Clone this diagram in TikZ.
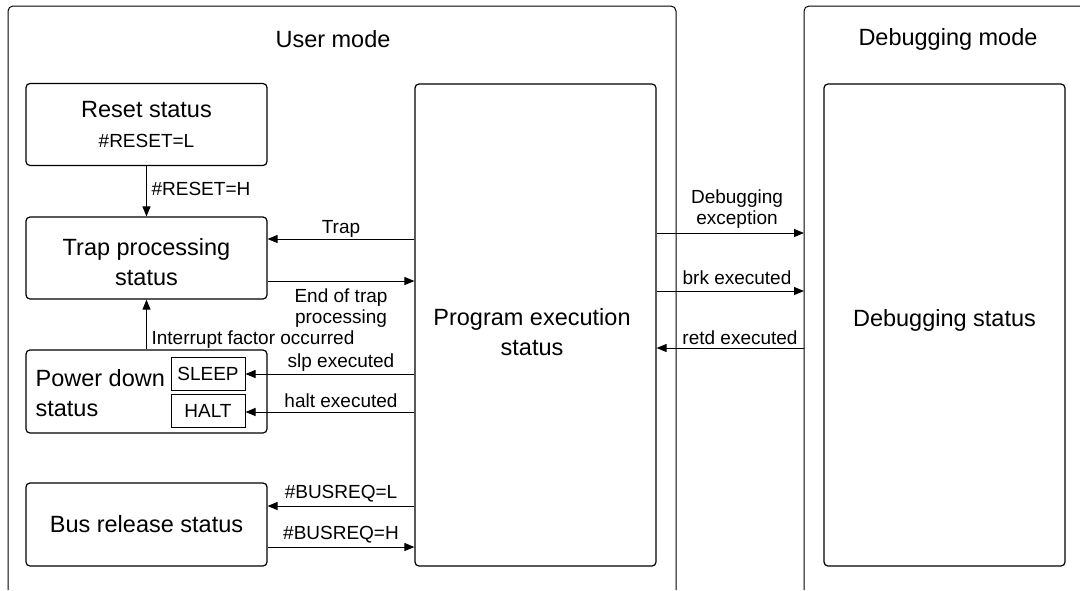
\documentclass[tikz,border=0pt]{standalone}
\usepackage{fontspec}
\setmainfont{Liberation Sans}
\usetikzlibrary{arrows.meta}
\begin{document}
\begin{tikzpicture}[x=1pt,y=-1pt,
  line width=1.2pt,
  bigf/.style={font=\fontsize{23.5}{30}\selectfont},
  smallf/.style={font=\fontsize{19}{20.5}\selectfont},
  box/.style={draw, rounded corners=4pt, inner sep=0pt, minimum width=241pt, bigf, align=center},
  sbox/.style={draw, line width=1pt, inner sep=0pt, minimum width=74pt, minimum height=33pt, smallf},
  lbl/.style={smallf, inner sep=0pt, align=center},
  txt/.style={bigf, inner sep=0pt, align=center},
  arr/.style={line width=1pt, -{Triangle[length=10pt,width=8pt]}},
]
\useasboundingbox (0,0) rectangle (1080,590);
% frames
\draw[line width=1pt, rounded corners=5pt] (8,590) -- (8,6) -- (676,6) -- (676,590);
\draw[line width=1pt, rounded corners=5pt] (804,590) -- (804,6) -- (1080,6);
\coordinate (dbgL) at (804,325);
\node[txt] (umode) at (333,39) {User mode};
\node[txt] (dmode) at (948,39) {Debugging mode};
% boxes
\node[box, minimum height=82pt] (reset) at (146.5,124.5) {Reset status\\{\fontsize{19}{20.5}\selectfont\#RESET=L}};
\node[box, minimum height=82pt] (trap) at (146.5,258) {};
\node[txt] (traptxt) at (146.5,262) {Trap processing\\status};
\node[box, minimum height=83pt] (power) at (146.5,391.5) {};
\node[txt, anchor=west, align=left] (powertxt) at (35,393) {Power down\\status};
\node[sbox] (sleep) at (208,373.5) {SLEEP};
\node[sbox] (halt) at (208,410.5) {HALT};
\node[box, minimum height=83pt] (bus) at (146.5,524.5) {Bus release status};
\node[box, minimum height=482pt] (prog) at (535.5,325) {};
\node[txt] (progtxt) at (532,332) {Program execution\\status};
\node[box, minimum height=482pt] (dbg) at (944.5,325) {};
\node[txt] (dbgtxt) at (944.5,320) {Debugging status};
% connectors
\draw[arr] (reset.south) -- (trap.north);
\node[lbl, anchor=west] at (151,189) {\#RESET=H};
\draw[arr] (power.north) -- (trap.south);
\node[lbl, anchor=west] at (151,340) {Interrupt factor occurred};
\draw[arr] (prog.west |- 0,239) -- (trap.east |- 0,239);
\node[lbl] at (341,229) {Trap};
\draw[arr] (trap.east |- 0,281) -- (prog.west |- 0,281);
\node[lbl] at (341,308) {End of trap\\processing};
\draw[arr] (prog.west |- 0,374) -- (sleep.east |- 0,374);
\node[lbl] at (341,363) {slp executed};
\draw[arr] (prog.west |- 0,412) -- (halt.east |- 0,412);
\node[lbl] at (341,401) {halt executed};
\draw[arr] (prog.west |- 0,506) -- (bus.east |- 0,506);
\node[lbl] at (341,494) {\#BUSREQ=L};
\draw[arr] (bus.east |- 0,547) -- (prog.west |- 0,547);
\node[lbl] at (341,535) {\#BUSREQ=H};
\draw[arr] (prog.east |- 0,233) -- (dbgL |- 0,233);
\node[lbl] at (737,209) {Debugging\\exception};
\draw[arr] (prog.east |- 0,291) -- (dbgL |- 0,291);
\node[lbl] at (737,278) {brk executed};
\draw[arr] (dbgL |- 0,348) -- (prog.east |- 0,348);
\node[lbl] at (740,338) {retd executed};
\end{tikzpicture}
\end{document}
